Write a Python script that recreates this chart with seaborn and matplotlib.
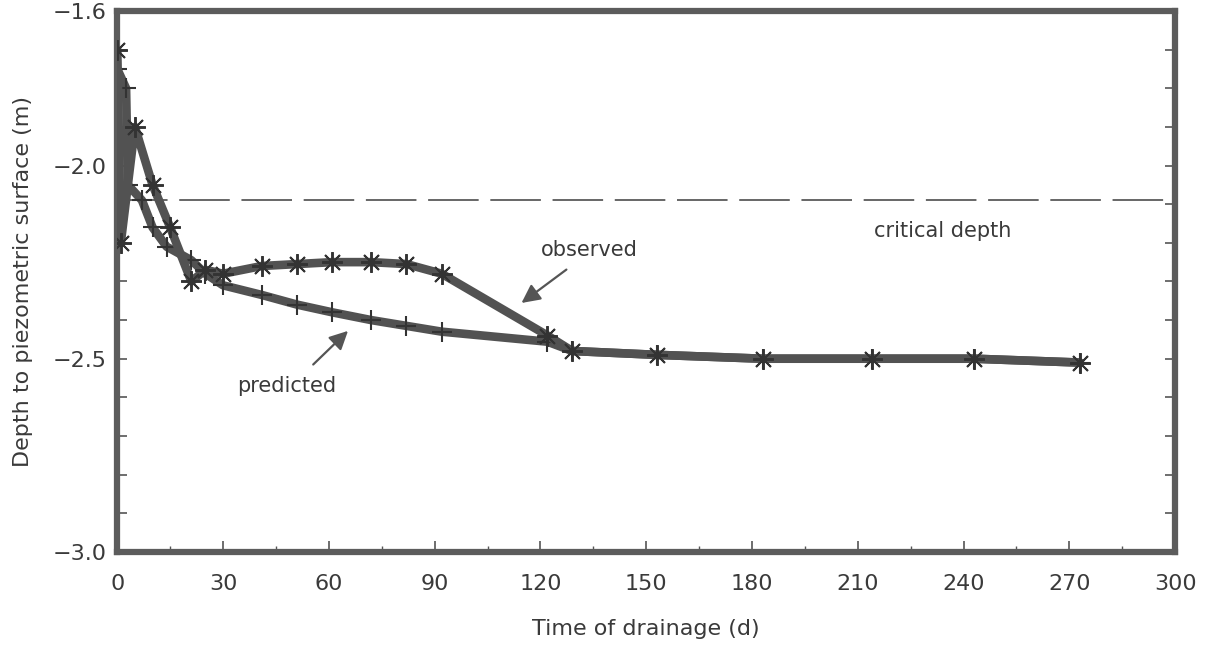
import matplotlib
matplotlib.use("Agg")
import matplotlib.pyplot as plt
import matplotlib.ticker as mticker
import seaborn as sns

# values
obs_days = [0, 1, 5, 10, 15, 21, 25, 30, 41, 51, 61, 72, 82, 92, 122, 129, 153, 183, 214, 243, 273]
obs_depth = [-1.70, -2.20, -1.90, -2.05, -2.16, -2.30, -2.27, -2.28, -2.26, -2.255, -2.25,
             -2.25, -2.255, -2.28, -2.44, -2.48, -2.49, -2.50, -2.50, -2.50, -2.51]

pred_days = [0, 2.5, 3, 7, 10, 14, 21, 25, 30, 41, 51, 61, 72, 82, 92, 122, 129, 153, 183, 214, 243, 273]
pred_depth = [-1.75, -1.80, -2.05, -2.09, -2.16, -2.21, -2.245, -2.28, -2.31, -2.335, -2.36, -2.38,
              -2.40, -2.415, -2.43, -2.456, -2.48, -2.49, -2.50, -2.50, -2.50, -2.51]

critical_depth = -2.09
x_ticks = [0, 30, 60, 90, 120, 150, 180, 210, 240, 270, 300]
y_ticks = [-3.0, -2.5, -2.0, -1.6]

sns.set_style("ticks")
plt.rcParams["font.family"] = ["DejaVu Sans"]

ink = "#525252"
text_c = "#3a3a3a"

fig = plt.figure(figsize=(12.09, 6.5), dpi=100)
ax = fig.add_axes([0.097, 0.151, 0.875, 0.832])

# critical depth reference line
ax.axhline(critical_depth, color="#666666", lw=1.4, dashes=(26, 6), zorder=1)

sns.lineplot(x=pred_days, y=pred_depth, ax=ax, sort=False, color=ink, lw=6.2,
             marker="+", markersize=14, markeredgewidth=1.5, markeredgecolor="#333333",
             zorder=3)
sns.lineplot(x=obs_days, y=obs_depth, ax=ax, sort=False, color=ink, lw=6.2,
             marker=(8, 2, 0), markersize=15, markeredgewidth=1.4, markeredgecolor="#333333",
             zorder=4)

ax.set_xlim(0, 300)
ax.set_ylim(-3.0, -1.6)
ax.xaxis.set_major_locator(mticker.FixedLocator(x_ticks))
ax.xaxis.set_minor_locator(mticker.MultipleLocator(15))
ax.yaxis.set_major_locator(mticker.FixedLocator(y_ticks))
ax.yaxis.set_major_formatter(mticker.FuncFormatter(lambda v, p: "\u2212%.1f" % abs(v)))
ax.yaxis.set_minor_locator(mticker.MultipleLocator(0.1))

ax.tick_params(axis="both", which="both", direction="in", colors="#555555",
               labelcolor=text_c, labelsize=16, right=True)
ax.tick_params(axis="x", which="major", length=8, width=1.2, pad=16)
ax.tick_params(axis="x", which="minor", length=4, width=1.0)
ax.tick_params(axis="y", which="both", length=7, width=1.2, pad=8)

for sp in ax.spines.values():
    sp.set_linewidth(4.5)
    sp.set_color("#5c5c5c")

ax.set_xlabel("Time of drainage (d)", fontsize=16, color=text_c, labelpad=18)
ax.set_ylabel("Depth to piezometric surface (m)", fontsize=16, color=text_c, labelpad=14)

arrow = dict(arrowstyle="-|>", color="#555555", lw=1.6, mutation_scale=28)
ax.annotate("", xy=(114, -2.36), xytext=(128, -2.265), arrowprops=arrow)
ax.annotate("", xy=(66, -2.423), xytext=(55, -2.52), arrowprops=arrow)
ax.text(134, -2.218, "observed", fontsize=15, color=text_c, ha="center", va="center")
ax.text(48, -2.57, "predicted", fontsize=15, color=text_c, ha="center", va="center")
ax.text(234, -2.17, "critical depth", fontsize=15, color=text_c, ha="center", va="center")

fig.savefig("out.png", dpi=100)
